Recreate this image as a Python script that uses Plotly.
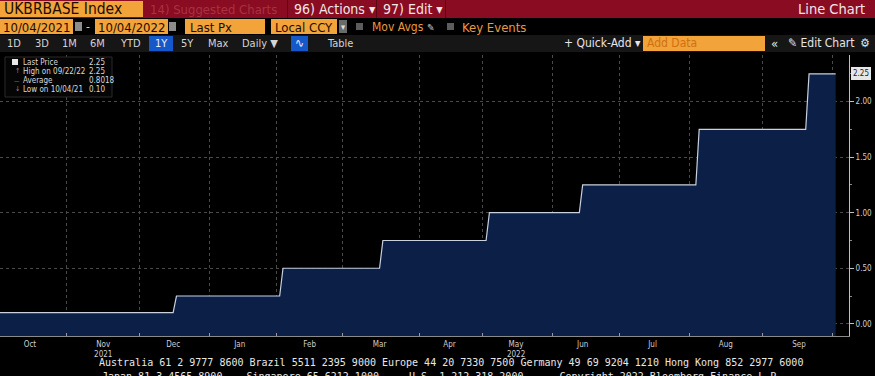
import pandas as pd
import plotly.graph_objects as go

# ---------------- data ----------------
START = "2021-10-04"
END = "2022-10-04"
UK_HOLIDAYS = ["2021-12-27", "2021-12-28", "2022-01-03", "2022-04-15", "2022-04-18",
               "2022-05-02", "2022-06-02", "2022-06-03", "2022-08-29", "2022-09-19"]
RATE_DATES = ["2021-10-04", "2021-12-16", "2022-02-03", "2022-03-17", "2022-05-05",
              "2022-06-16", "2022-08-04", "2022-09-22"]
RATE_VALUES = [0.10, 0.25, 0.50, 0.75, 1.00, 1.25, 1.75, 2.25]

MONTH_LABEL_DATES = ["2021-10-15", "2021-11-16", "2021-12-15", "2022-01-17", "2022-02-15",
                     "2022-03-16", "2022-04-14", "2022-05-17", "2022-06-16", "2022-07-15",
                     "2022-08-16", "2022-09-16"]
MONTH_LABELS = ["Oct", "Nov<br>2021", "Dec", "Jan", "Feb", "Mar", "Apr", "May<br>2022",
                "Jun", "Jul", "Aug", "Sep"]
MONTH_START_DATES = ["2021-11-01", "2021-12-01", "2022-01-04", "2022-02-01", "2022-03-01",
                     "2022-04-01", "2022-05-03", "2022-06-01", "2022-07-01", "2022-08-01",
                     "2022-09-01", "2022-10-03"]
Y_TICKS = [0.0, 0.5, 1.0, 1.5, 2.0]
Y_RANGE = [-0.11, 2.42]
X_RANGE = ["2021-10-04", "2022-10-10"]

# daily (business-day) series from the step schedule
days = pd.bdate_range(START, END, freq="C", holidays=UK_HOLIDAYS)
sched = pd.Series(RATE_VALUES, index=pd.to_datetime(RATE_DATES))
daily = sched.reindex(days, method="ffill")

# ---------------- figure ----------------
fig = go.Figure()
fig.add_trace(go.Scatter(x=days, y=[Y_RANGE[0]] * len(days), mode="lines",
                         line=dict(width=0, color="rgba(0,0,0,0)"), hoverinfo="skip",
                         showlegend=False))
fig.add_trace(go.Scatter(x=days, y=daily.values, mode="lines", fill="tonexty",
                         fillcolor="#0b1f47", line=dict(color="#c9d0de", width=1.2),
                         showlegend=False))

PW, PT, PB = 849, 55, 336
PH = PB - PT


def X(px):
    return px / PW


def Y(py):
    return (PB - py) / PH


shapes = []
ann = []
FONT = "Liberation Sans Narrow, DejaVu Sans Condensed, Liberation Sans, sans-serif"


def rect(x0, x1, y0, y1, color, line=None):
    shapes.append(dict(type="rect", xref="paper", yref="paper", x0=X(x0), x1=X(x1),
                       y0=Y(y1), y1=Y(y0), fillcolor=color,
                       line=dict(width=1 if line else 0, color=line or color), layer="above"))


def text(x, y, s, size, color, anchor="left", family=FONT, bg=None):
    ann.append(dict(xref="paper", yref="paper", x=X(x), y=Y(y), text=s, showarrow=False,
                    xanchor=anchor, yanchor="middle", bgcolor=bg,
                    font=dict(size=size, color=color, family=family)))


# row 1
rect(0, 875, 0, 18, "#8a0c22")
rect(0, 143, 1, 17, "#f2a33a")
text(2, 9.5, "UKBRBASE Index", 15.5, "#1c0d00")
text(148, 9.5, "14) Suggested Charts", 13, "#a8323f")
rect(287, 288, 0, 18, "#5a0614")
text(292, 9.5, "96) Actions \u25be", 14, "#f2e6e6")
rect(376, 377, 0, 18, "#5a0614")
text(381, 9.5, "97) Edit \u25be", 14, "#f2e6e6")
rect(445, 446, 0, 18, "#5a0614")
text(867, 9.5, "Line Chart", 14.5, "#f2e6e6", anchor="right")

# row 2
rect(0, 875, 18, 35, "#000000")
rect(0, 73, 19, 34, "#f2a33a")
text(1, 27, "10/04/2021", 13, "#1c0d00")
rect(75, 82, 22, 31, "#8c8c8c")
text(88, 27, "-", 12, "#d0d0d0", anchor="center")
rect(95, 168, 19, 34, "#f2a33a")
text(96, 27, "10/04/2022", 13, "#1c0d00")
rect(169, 176, 22, 31, "#8c8c8c")
rect(185, 265, 19, 34, "#f2a33a")
text(188, 27, "Last Px", 13, "#1c0d00")
rect(271, 337, 19, 34, "#f2a33a")
text(273, 27, "Local CCY", 13, "#1c0d00")
rect(339, 347, 20, 33, "#6a6a6a")
text(343, 27, "\u25be", 9, "#e0e0e0", anchor="center")
rect(356, 363, 23, 30, "#5c5c5c")
text(370, 27, "Mov Avgs", 12, "#e89a40")
text(431, 27, "\u270e", 10, "#c0c0c0", anchor="center")
rect(447, 454, 23, 30, "#5c5c5c")
text(460, 27, "Key Events", 13, "#e89a40")

# row 3
rect(0, 875, 35, 52, "#161616")
for lx, lab in zip([14, 42, 69, 97, 130, 187, 218, 260, 340],
                   ["1D", "3D", "1M", "6M", "YTD", "5Y", "Max", "Daily \u25bc", "Table"]):
    text(lx, 43.5, lab, 11, "#d4d4d4", anchor="center")
rect(149, 173, 36, 51, "#1558c9")
text(161, 43.5, "1Y", 11, "#e8eefc", anchor="center")
rect(291, 308, 36, 51, "#1558c9")
text(299.5, 43.5, "\u223f", 12, "#e8eefc", anchor="center")
text(562, 43.5, "+ Quick-Add \u25be", 12, "#e6e6e6")
rect(643, 765, 36, 51, "#f2a33a")
text(645, 43.5, "Add Data", 12, "#d07010")
text(774, 43.5, "\u00ab", 13, "#e6e6e6", anchor="center")
text(786, 43.5, "\u270e Edit Chart", 12, "#e6e6e6")
text(865, 43.5, "\u2699", 12, "#e6e6e6", anchor="center")

# legend box
rect(5, 112, 57, 97, "#050505", line="#2a2a2a")
rect(12, 18, 59, 65, "#e8e8e8")
LF = 8
text(21, 62, "Last Price", LF, "#d8d8d8")
text(87, 62, "2.25", LF, "#d8d8d8")
text(13, 71, "\u2191", 7, "#8a8a8a")
text(21, 71, "High on 09/22/22", LF, "#d8d8d8")
text(87, 71, "2.25", LF, "#d8d8d8")
text(12, 80, "\u2014", 6, "#8a8a8a")
text(21, 80, "Average", LF, "#d8d8d8")
text(87, 80, "0.8018", LF, "#d8d8d8")
text(13, 89, "\u2193", 7, "#8a8a8a")
text(21, 89, "Low on 10/04/21", LF, "#d8d8d8")
text(87, 89, "0.10", LF, "#d8d8d8")

# last value tag
ann.append(dict(xref="paper", yref="y", x=X(851), y=float(daily.values[-1]),
                text=f"{daily.values[-1]:.2f}", showarrow=False, xanchor="left",
                yanchor="middle", bgcolor="#e6e6e6", bordercolor="#e6e6e6", borderpad=1,
                font=dict(size=8, color="#202020", family=FONT)))

# footer
NB = "\u00a0"
text(97, 362, "Australia 61 2 9777 8600 Brazil 5511 2395 9000 Europe 44 20 7330 7500 "
     "Germany 49 69 9204 1210 Hong Kong 852 2977 6000", 10, "#e8e8e8",
     family="DejaVu Sans Mono, monospace")
text(100, 376, ("Japan 81 3 4565 8900" + NB * 4 + "Singapore 65 6212 1000" + NB * 5 +
                "U.S. 1 212 318 2000" + NB * 6 + "Copyright 2022 Bloomberg Finance L.P."),
     10, "#e8e8e8", family="DejaVu Sans Mono, monospace")

fig.update_layout(
    width=875, height=376,
    margin=dict(l=0, r=875 - PW, t=PT, b=376 - PB),
    paper_bgcolor="#000000", plot_bgcolor="#000000",
    shapes=shapes, annotations=ann, showlegend=False,
    xaxis=dict(type="date", range=X_RANGE,
               rangebreaks=[dict(bounds=["sat", "mon"]), dict(values=UK_HOLIDAYS)],
               tickmode="array", tickvals=MONTH_LABEL_DATES, ticktext=MONTH_LABELS,
               ticks="", showgrid=False, zeroline=False,
               showline=True, linecolor="#8a8a8a", linewidth=1,
               tickfont=dict(size=8, color="#cfcfcf", family=FONT),
               minor=dict(tickmode="array", tickvals=MONTH_START_DATES, showgrid=True,
                          gridcolor="#4a4a4a", griddash="dot", gridwidth=1,
                          ticks="inside", ticklen=3, tickcolor="#9a9a9a")),
    yaxis=dict(side="right", range=Y_RANGE, tickmode="array", tickvals=Y_TICKS,
               tickformat=".2f", showgrid=True, gridcolor="#4a4a4a", griddash="dot",
               gridwidth=1, zeroline=False, showline=True, linecolor="#bfbfbf",
               linewidth=1, ticks="outside", ticklen=4, tickcolor="#bfbfbf",
               tickfont=dict(size=8, color="#cfcfcf", family=FONT),
               minor=dict(dtick=0.25, tick0=0, ticks="outside", ticklen=2,
                          tickcolor="#8a8a8a", showgrid=False)),
)

fig.write_html("out.html", config={"displayModeBar": False},
               post_script="document.body.style.margin='0';"
               "document.body.style.overflow='hidden';")
